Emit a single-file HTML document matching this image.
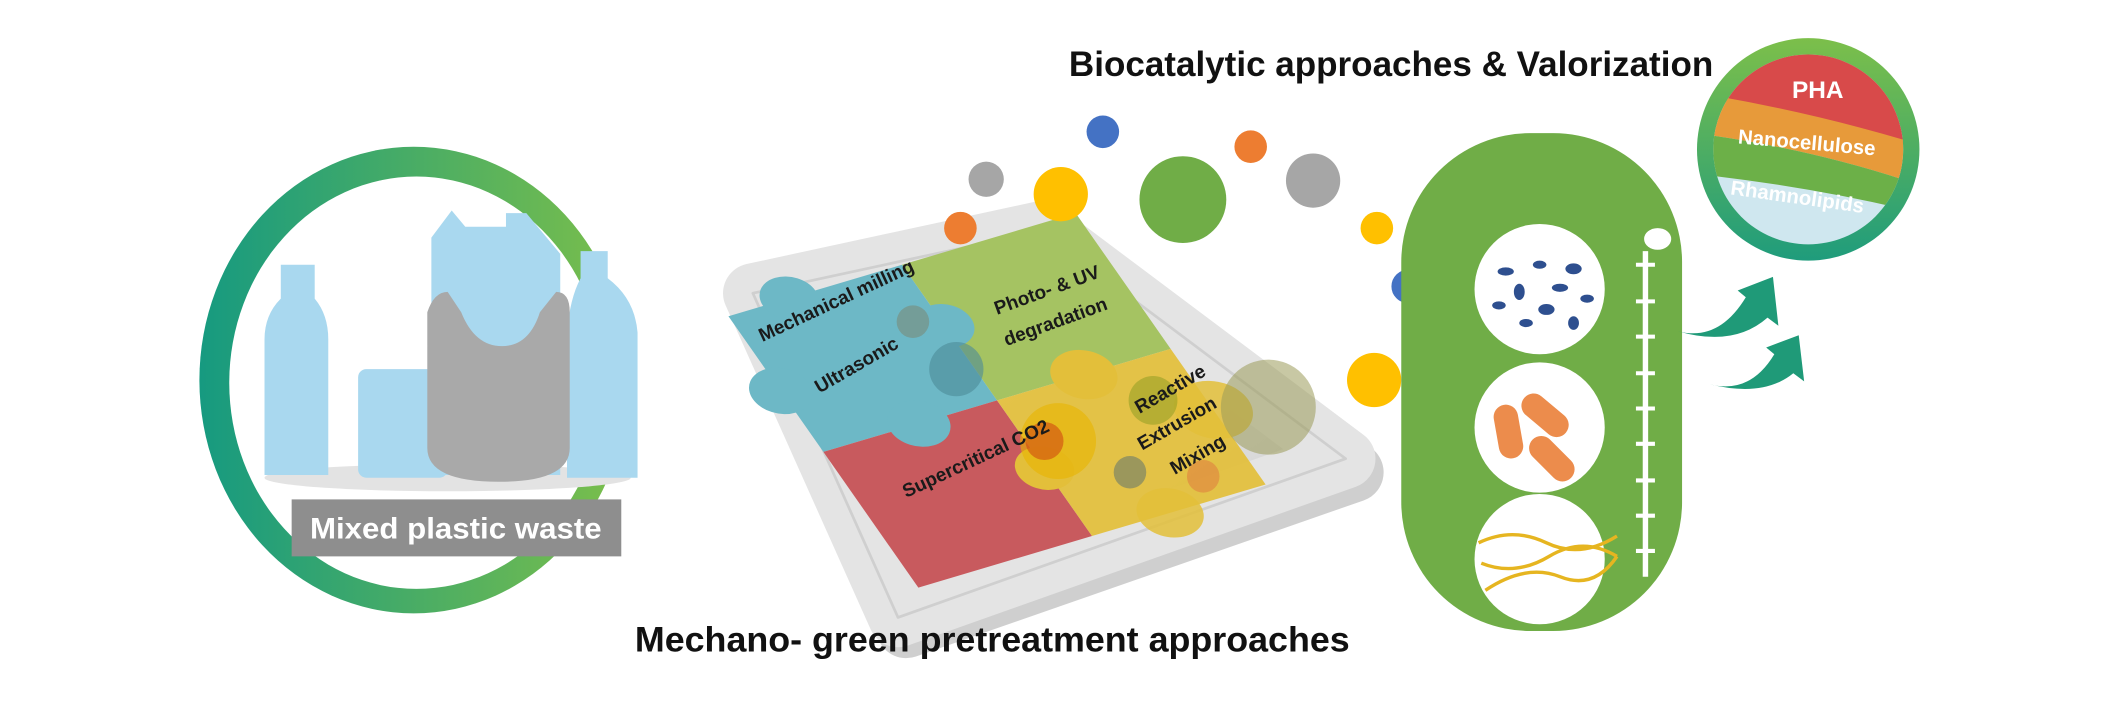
<!DOCTYPE html>
<html><head><meta charset="utf-8"><style>
html,body{margin:0;padding:0;background:#fff;width:2127px;height:718px;overflow:hidden}
svg{display:block}
text{font-family:"Liberation Sans",sans-serif;font-weight:bold}
</style></head><body>
<svg width="2127" height="718" viewBox="0 0 1568 529" xmlns="http://www.w3.org/2000/svg">
<defs>
<linearGradient id="ring" x1="0" x2="1" y1="0" y2="0"><stop offset="0" stop-color="#169a80"/><stop offset="1" stop-color="#7cbf4a"/></linearGradient>
<linearGradient id="tray" x1="0" x2="1" y1="0" y2="1"><stop offset="0" stop-color="#f6f6f6"/><stop offset="0.6" stop-color="#e2e2e2"/><stop offset="1" stop-color="#c4c4c4"/></linearGradient>
<linearGradient id="ring2" x1="0" x2="0" y1="0" y2="1"><stop offset="0" stop-color="#7cbf4a"/><stop offset="1" stop-color="#1f9c7c"/></linearGradient>
<clipPath id="pc"><circle cx="1333" cy="110" r="70"/></clipPath>
</defs>

<ellipse cx="305" cy="280" rx="158" ry="172" fill="url(#ring)"/>
<ellipse cx="307" cy="282" rx="138" ry="152" fill="#fff"/>
<ellipse cx="330" cy="352" rx="135" ry="10" fill="#e3e3e3"/>
<path d="M207 195h25v25q10 12 10 30v100h-47v-100q0-18 12-30z" fill="#a9d8ef"/>
<rect x="264" y="272" width="66" height="80" rx="6" fill="#a9d8ef"/>
<path d="M318 175l15-20 10 12h30v-10h15l25 30v163h-95z" fill="#a9d8ef"/>
<path d="M428 185h20v20q20 15 22 40v107h-52v-107q2-25 10-40z" fill="#a9d8ef"/>
<path d="M315 230q5-15 15-15l10 15q10 25 30 25q20 0 28-25l12-15q10 0 10 15v100q0 25-52 25q-53 0-53-25z" fill="#a9a9a9"/>
<rect x="215" y="368" width="243" height="42" fill="#8e8e8e"/>
<text x="336" y="397" font-size="22" fill="#fff" text-anchor="middle" textLength="215" lengthAdjust="spacingAndGlyphs">Mixed plastic waste</text>

<!-- tray -->
<polygon points="560,225 772,178 998,348 668,463" fill="#b0b0b0" stroke="#b0b0b0" stroke-width="44" stroke-linejoin="round" opacity="0.6"/>
<polygon points="555,216 768,170 992,338 662,455" fill="url(#tray)" stroke="#e4e4e4" stroke-width="44" stroke-linejoin="round"/>
<polygon points="555,216 768,170 992,338 662,455" fill="none" stroke="#cfcfcf" stroke-width="2" stroke-linejoin="round"/>

<g transform="matrix(1.28,-0.38,0.70,1.0,537,233)">
<rect x="0" y="0" width="100" height="100" fill="#6db8c6"/>
<circle cx="0" cy="55" r="16" fill="#6db8c6"/><circle cx="35" cy="0" r="15" fill="#6db8c6"/>
<rect x="100" y="0" width="100" height="100" fill="#a5c362"/>
<rect x="0" y="100" width="100" height="100" fill="#c85a5e"/>
<circle cx="55" cy="100" r="16" fill="#6db8c6"/>
<circle cx="100" cy="45" r="15" fill="#6db8c6"/>
<rect x="100" y="100" width="100" height="100" fill="#e3bf3a" opacity="0.92"/>
<circle cx="150" cy="100" r="17" fill="#e3bf3a"/><circle cx="200" cy="145" r="20" fill="#e3bf3a" opacity="0.85"/>
<circle cx="145" cy="200" r="17" fill="#e3bf3a" opacity="0.85"/>
<circle cx="100" cy="150" r="15" fill="#e3bf3a"/>
</g>
<circle cx="673" cy="237" r="12" fill="#7a8a7a" opacity="0.6"/>
<circle cx="705" cy="272" r="20" fill="#4c8a97" opacity="0.6"/>
<circle cx="780" cy="325" r="28" fill="#e8b400" opacity="0.6"/>
<circle cx="770" cy="325" r="14" fill="#d04a10" opacity="0.6"/>
<circle cx="935" cy="300" r="35" fill="#9b9b5a" opacity="0.55"/>
<circle cx="850" cy="295" r="18" fill="#8a9a20" opacity="0.5"/>
<circle cx="833" cy="348" r="12" fill="#6a7a6a" opacity="0.6"/>
<circle cx="887" cy="351" r="12" fill="#e08040" opacity="0.6"/>
<g font-size="14" fill="#1a1a1a">
<text transform="translate(562 252) rotate(-25)">Mechanical milling</text>
<text transform="translate(735 232) rotate(-20)">Photo- &amp; UV</text>
<text transform="translate(742 255) rotate(-20)">degradation</text>
<text transform="translate(604 290) rotate(-30)">Ultrasonic</text>
<text transform="translate(840 305) rotate(-30)">Reactive</text>
<text transform="translate(842 332) rotate(-30)">Extrusion</text>
<text transform="translate(866 350) rotate(-30)">Mixing</text>
<text transform="translate(668 367) rotate(-25)">Supercritical CO2</text>
</g>

<circle cx="727" cy="132" r="13" fill="#a6a6a6"/>
<circle cx="708" cy="168" r="12" fill="#ed7d31"/>
<circle cx="782" cy="143" r="20" fill="#ffc000"/>
<circle cx="813" cy="97" r="12" fill="#4472c4"/>
<circle cx="872" cy="147" r="32" fill="#70ad47"/>
<circle cx="922" cy="108" r="12" fill="#ed7d31"/>
<circle cx="968" cy="133" r="20" fill="#a6a6a6"/>
<circle cx="1015" cy="168" r="12" fill="#ffc000"/>
<circle cx="1038" cy="211" r="13" fill="#4472c4" stroke="#fff" stroke-width="1.5"/>
<circle cx="1013" cy="280" r="20" fill="#ffc000"/>

<rect x="1033" y="98" width="207" height="367" rx="95" fill="#70ad47"/>
<circle cx="1135" cy="213" r="48" fill="#fff"/>
<circle cx="1135" cy="315" r="48" fill="#fff"/>
<circle cx="1135" cy="412" r="48" fill="#fff"/>
<g fill="#2e4f8f">
<ellipse cx="1110" cy="200" rx="6" ry="3"/><ellipse cx="1135" cy="195" rx="5" ry="3"/><ellipse cx="1160" cy="198" rx="6" ry="4"/>
<ellipse cx="1120" cy="215" rx="4" ry="6"/><ellipse cx="1150" cy="212" rx="6" ry="3"/><ellipse cx="1170" cy="220" rx="5" ry="3"/>
<ellipse cx="1105" cy="225" rx="5" ry="3"/><ellipse cx="1140" cy="228" rx="6" ry="4"/><ellipse cx="1125" cy="238" rx="5" ry="3"/><ellipse cx="1160" cy="238" rx="4" ry="5"/>
</g>
<g fill="#ec8c4c">
<rect x="1103" y="298" width="18" height="40" rx="9" transform="rotate(-10 1112 318)"/>
<rect x="1130" y="286" width="18" height="40" rx="9" transform="rotate(-50 1139 306)"/>
<rect x="1135" y="318" width="18" height="40" rx="9" transform="rotate(-45 1144 338)"/>
</g>
<g fill="none" stroke="#e6b520" stroke-width="2.5">
<path d="M1090 400q25-12 50 0t52-5"/><path d="M1092 415q25 10 50-5t50 0"/><path d="M1095 435q30-20 55-10t42-15"/>
</g>
<line x1="1213" y1="185" x2="1213" y2="425" stroke="#fff" stroke-width="4"/>
<g stroke="#fff" stroke-width="3">
<line x1="1206" y1="195" x2="1220" y2="195"/><line x1="1206" y1="222" x2="1220" y2="222"/><line x1="1206" y1="248" x2="1220" y2="248"/><line x1="1206" y1="275" x2="1220" y2="275"/><line x1="1206" y1="301" x2="1220" y2="301"/><line x1="1206" y1="327" x2="1220" y2="327"/><line x1="1206" y1="354" x2="1220" y2="354"/><line x1="1206" y1="380" x2="1220" y2="380"/><line x1="1206" y1="406" x2="1220" y2="406"/>
</g>
<ellipse cx="1222" cy="176" rx="10" ry="8" fill="#fff"/>

<path d="M1237 244q30 8 50-25l-6-5 26-10 4 36-8-6q-25 22-66 10z" fill="#1f9a78"/>
<path d="M1260 283q30 8 48-22l-6-5 24-9 4 34-8-6q-22 18-62 8z" fill="#1f9a78"/>

<circle cx="1333" cy="110" r="82" fill="url(#ring2)"/>
<g clip-path="url(#pc)">
<rect x="1250" y="30" width="170" height="165" fill="#cfe7ef"/>
<path d="M1250 30h170v80q-80-20-170-40z" fill="#d84a4a"/>
<path d="M1250 68q90 15 170 40v30q-80-28-170-40z" fill="#e79a3a"/>
<path d="M1250 98q90 12 170 40v20q-80-20-170-30z" fill="#6cb048"/>
</g>
<text x="1340" y="72" font-size="18" fill="#fff" text-anchor="middle">PHA</text>
<text x="1332" y="110" font-size="15" fill="#fff" text-anchor="middle" transform="rotate(5 1332 105)">Nanocellulose</text>
<text x="1325" y="150" font-size="15" fill="#fff" text-anchor="middle" transform="rotate(8 1325 145)">Rhamnolipids</text>

<text x="788" y="56" font-size="26" fill="#111" textLength="475" lengthAdjust="spacingAndGlyphs">Biocatalytic approaches &amp; Valorization</text>
<text x="468" y="480" font-size="26" fill="#111" textLength="527" lengthAdjust="spacingAndGlyphs">Mechano- green pretreatment approaches</text>
</svg>
</body></html>
